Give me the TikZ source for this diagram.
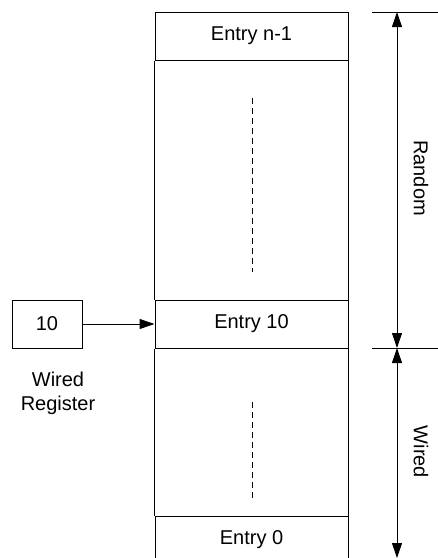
\documentclass[tikz,border=0pt]{standalone}
\usepackage{fontspec}
\setmainfont{Liberation Sans}
\usetikzlibrary{arrows.meta, positioning, calc}
\definecolor{lineColor}{HTML}{000000}

\begin{document}
\begin{tikzpicture}[
    x=0.5pt, y=-0.5pt,
    font=\fontsize{10}{12}\selectfont,
    entrybox/.style={
        draw=lineColor, line width=0.5pt,
        minimum width=96.5pt, minimum height=24pt,
        inner sep=0pt, anchor=center
    },
    regbox/.style={
        draw=lineColor, line width=0.5pt,
        minimum width=35pt, minimum height=24pt,
        inner sep=0pt
    },
    sideline/.style={lineColor, line width=0.5pt},
    dotline/.style={lineColor, line width=0.5pt, dash pattern=on 3pt off 2pt},
    tipline/.style={lineColor, line width=0.5pt},
    dimarrow/.style={
        {Triangle[length=7.5pt,width=5pt]}-{Triangle[length=7.5pt,width=5pt]},
        lineColor, line width=0.5pt
    },
    midarrow/.style={
        -{Triangle[length=7.5pt,width=5pt]},
        lineColor, line width=0.5pt
    },
    sidelabel/.style={rotate=-90, inner sep=0pt},
]
\clip (0,0) rectangle (438,558);

% ============================================================
%  ENTRIES
% ============================================================
\node[entrybox] (entryTop) at (251.5,36) {Entry n-1};
\node[entrybox] (entryTen) at (251.5,324) {Entry 10};
\node[entrybox] (entryZero) at (251.5,540) {Entry 0};

\draw[sideline] (entryTop.south west) -- (entryTen.north west);
\draw[sideline] (entryTop.south east) -- (entryTen.north east);
\draw[sideline] (entryTen.south west) -- (entryZero.north west);
\draw[sideline] (entryTen.south east) -- (entryZero.north east);

% dots between entries
\coordinate (dotA1) at (252,98);
\coordinate (dotA2) at (252,272);
\coordinate (dotB1) at (252,402);
\coordinate (dotB2) at (252,500);
\draw[dotline] (dotA1) -- (dotA2);
\draw[dotline] (dotB1) -- (dotB2);

% ============================================================
%  WIRED REGISTER
% ============================================================
\node[regbox] (wiredReg) at (47,324) {10};
\node[align=center, inner sep=0pt] (wiredLabel) at (58,393) {Wired\\Register};

\draw[midarrow] (wiredReg.east) -- (entryTen.west);

% ============================================================
%  RANGES
% ============================================================
\coordinate (rangeTop) at (397,12);
\coordinate (rangeMid) at (397,348);
\coordinate (rangeBot) at (397,558);

\draw[tipline] (372,12) -- (438,12);
\draw[tipline] (372,348) -- (438,348);

\draw[dimarrow] (rangeTop) -- (rangeMid);
\draw[dimarrow] (rangeMid) -- (rangeBot);

\node[sidelabel] (randomLabel) at (421,178) {Random};
\node[sidelabel] (wiredSide) at (421,452) {Wired};

\end{tikzpicture}
\end{document}
